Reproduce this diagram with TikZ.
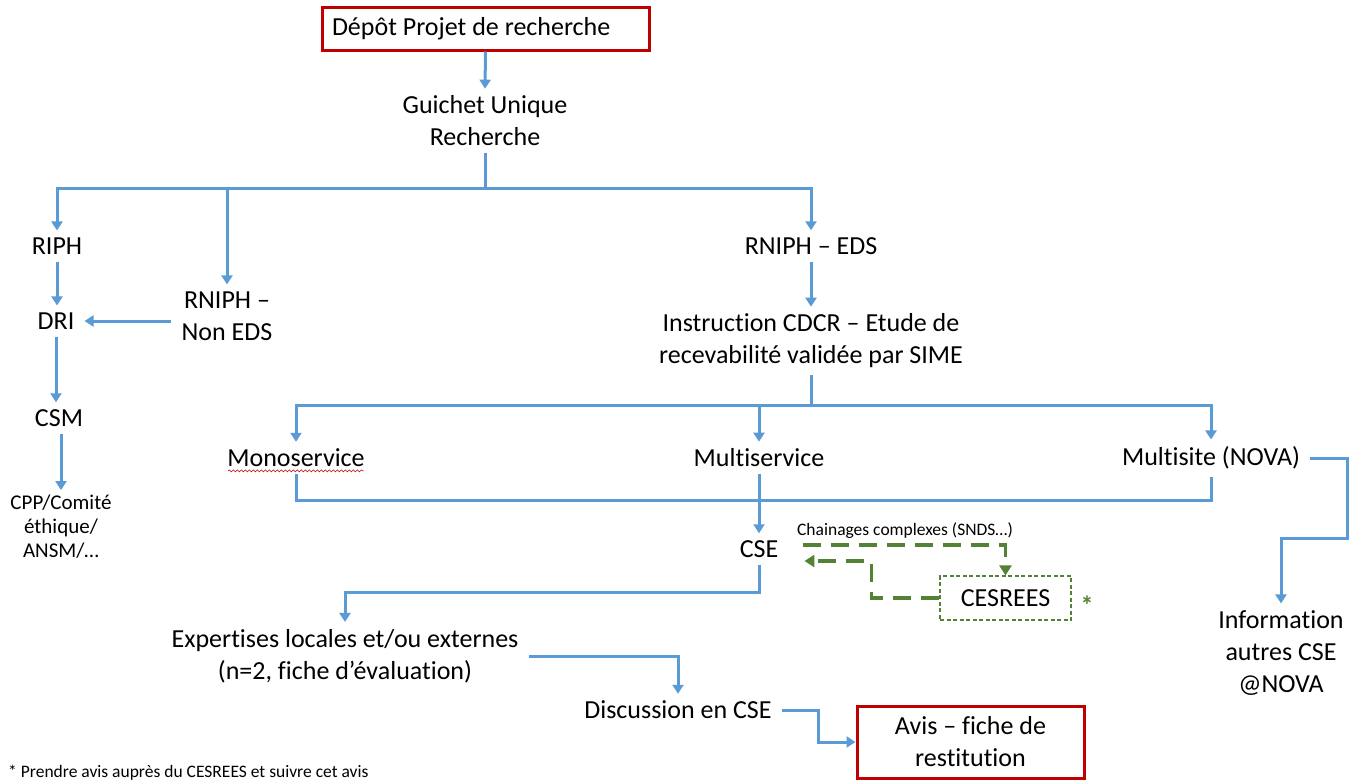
\documentclass[tikz,border=0pt]{standalone}
\usepackage{fontspec}
\setmainfont{Carlito}[Ligatures=NoCommon]
\usetikzlibrary{arrows.meta,calc,decorations.pathmorphing}
\definecolor{lblue}{HTML}{5B9BD5}
\definecolor{dred}{HTML}{C00000}
\definecolor{dgreen}{HTML}{548235}
\begin{document}
\begin{tikzpicture}[x=1pt,y=-1pt,
 txt/.style={font=\fontsize{26}{32}\selectfont, align=center, inner xsep=10pt, inner ysep=7pt},
 small/.style={font=\fontsize{21}{24}\selectfont, align=center, inner sep=5pt},
 redbox/.style={draw=dred, line width=3pt, font=\fontsize{26}{32}\selectfont, inner xsep=10pt},
 ln/.style={draw=lblue, line width=3pt},
 arr/.style={ln, -{Triangle[width=11pt,length=9pt]}},
 garr/.style={draw=dgreen, line width=3.5pt, dash pattern=on 18pt off 10pt, -{Triangle[width=12pt,length=10pt]}},
]
\useasboundingbox (0,0) rectangle (1364,782);
\clip (0,0) rectangle (1364,782);
\fill[white] (0,0) rectangle (1364,782);

\node[redbox, minimum width=327pt, minimum height=43pt, text width=307pt, align=flush left] (depot) at (485.5,28.5) {Dépôt Projet de recherche};
\node[txt] (guichet) at (485,121) {Guichet Unique\\Recherche};
\coordinate (hub) at (485,188);
\node[txt] (riph) at (57,246) {RIPH};
\node[txt] (rnon) at (227,316) {RNIPH –\\Non EDS};
\node[txt] (dri) at (56,321) {DRI};
\node[txt] (csm) at (59,418) {CSM};
\node[small] (cpp) at (61,527) {CPP/Comité\\éthique/\\ANSM/…};
\node[txt] (reds) at (811,246) {RNIPH – EDS};
\node[txt] (instr) at (811,341) {Instruction CDCR – Etude de\\recevabilité validée par SIME};
\coordinate (hub2) at (811,405);
\node[txt] (mono) at (296,458) {Monoservice};
\node[txt] (multi) at (759,458) {Multiservice};
\node[txt] (msite) at (1211,458) {Multisite (NOVA)};
\coordinate (merge) at (760,500);
\node[txt] (cse) at (759,549) {CSE};
\node[txt] (info) at (1281,653) {Information\\autres CSE\\@NOVA};
\coordinate (turn) at (1347,538);
\node[txt] (expert) at (345,656) {Expertises locales et/ou externes\\(n=2, fiche d’évaluation)};
\coordinate (e1) at (345,592);
\node[txt] (disc) at (678,710) {Discussion en CSE};
\node[redbox, minimum width=227pt, minimum height=72pt, align=center] (avis) at (970.5,742) {Avis – fiche de\\restitution};
\node[draw=dgreen, line width=1.2pt, dash pattern=on 4pt off 2.5pt, minimum width=131pt, minimum height=44pt, font=\fontsize{26}{32}\selectfont] (cesrees) at (1005.5,598) {CESREES};
\node[font=\fontsize{17.5}{20}\selectfont, inner sep=0pt] (chain) at (905,531) {Chainages complexes (SNDS…)};
\node[font=\bfseries\fontsize{26}{28}\selectfont, text=dgreen, inner sep=0pt] (star) at (1087,605) {*};
\node[font=\fontsize{17.5}{20}\selectfont, anchor=base west, inner sep=0pt] (note) at (8,777) {* Prendre avis auprès du CESREES et suivre cet avis};

\draw[arr] (depot.south) -- (guichet.north);
\draw[ln] (guichet.south) -- (hub);
\draw[arr] (hub) -| (riph.north);
\draw[arr] (hub) -| (rnon.north);
\draw[arr] (hub) -| (reds.north);
\draw[arr] (riph.south) -- (riph.south |- dri.north);
\draw[arr] (rnon.west |- dri.east) -- (dri.east);
\draw[arr] (dri.south) -- (dri.south |- csm.north);
\draw[arr] (cpp.north |- csm.south) -- (cpp.north);
\draw[arr] (reds.south) -- (instr.north);
\draw[ln] (instr.south) -- (hub2);
\draw[arr] (hub2) -| (mono.north);
\draw[arr] (hub2) -| (multi.north);
\draw[arr] (hub2) -| (msite.north);
\draw[ln] (mono.south) |- (msite.south |- merge) -- (msite.south);
\draw[arr] (multi.south) -- (cse.north);
\draw[arr] (msite.east) -| (turn) -| (info.north);
\draw[arr] (cse.south) -- (cse.south |- e1) -| (expert.north);
\draw[arr] (expert.east) -| (disc.north);
\draw[arr] (disc.east) -| ($(disc.east)!0.5!(avis.west)$) |- (avis.west);

\draw[garr] ($(cse.east)+(15,-4)$) -| (cesrees.north);
\draw[garr] (cesrees.west) -- ++(-68,0) |- ($(cse.east)+(16,12)$);

\draw[dred, line width=0.6pt, decorate, decoration={snake, amplitude=1pt, segment length=4pt}] ($(mono.base west)+(11,4)$) -- ($(mono.base east)+(-11,4)$);
\end{tikzpicture}
\end{document}
